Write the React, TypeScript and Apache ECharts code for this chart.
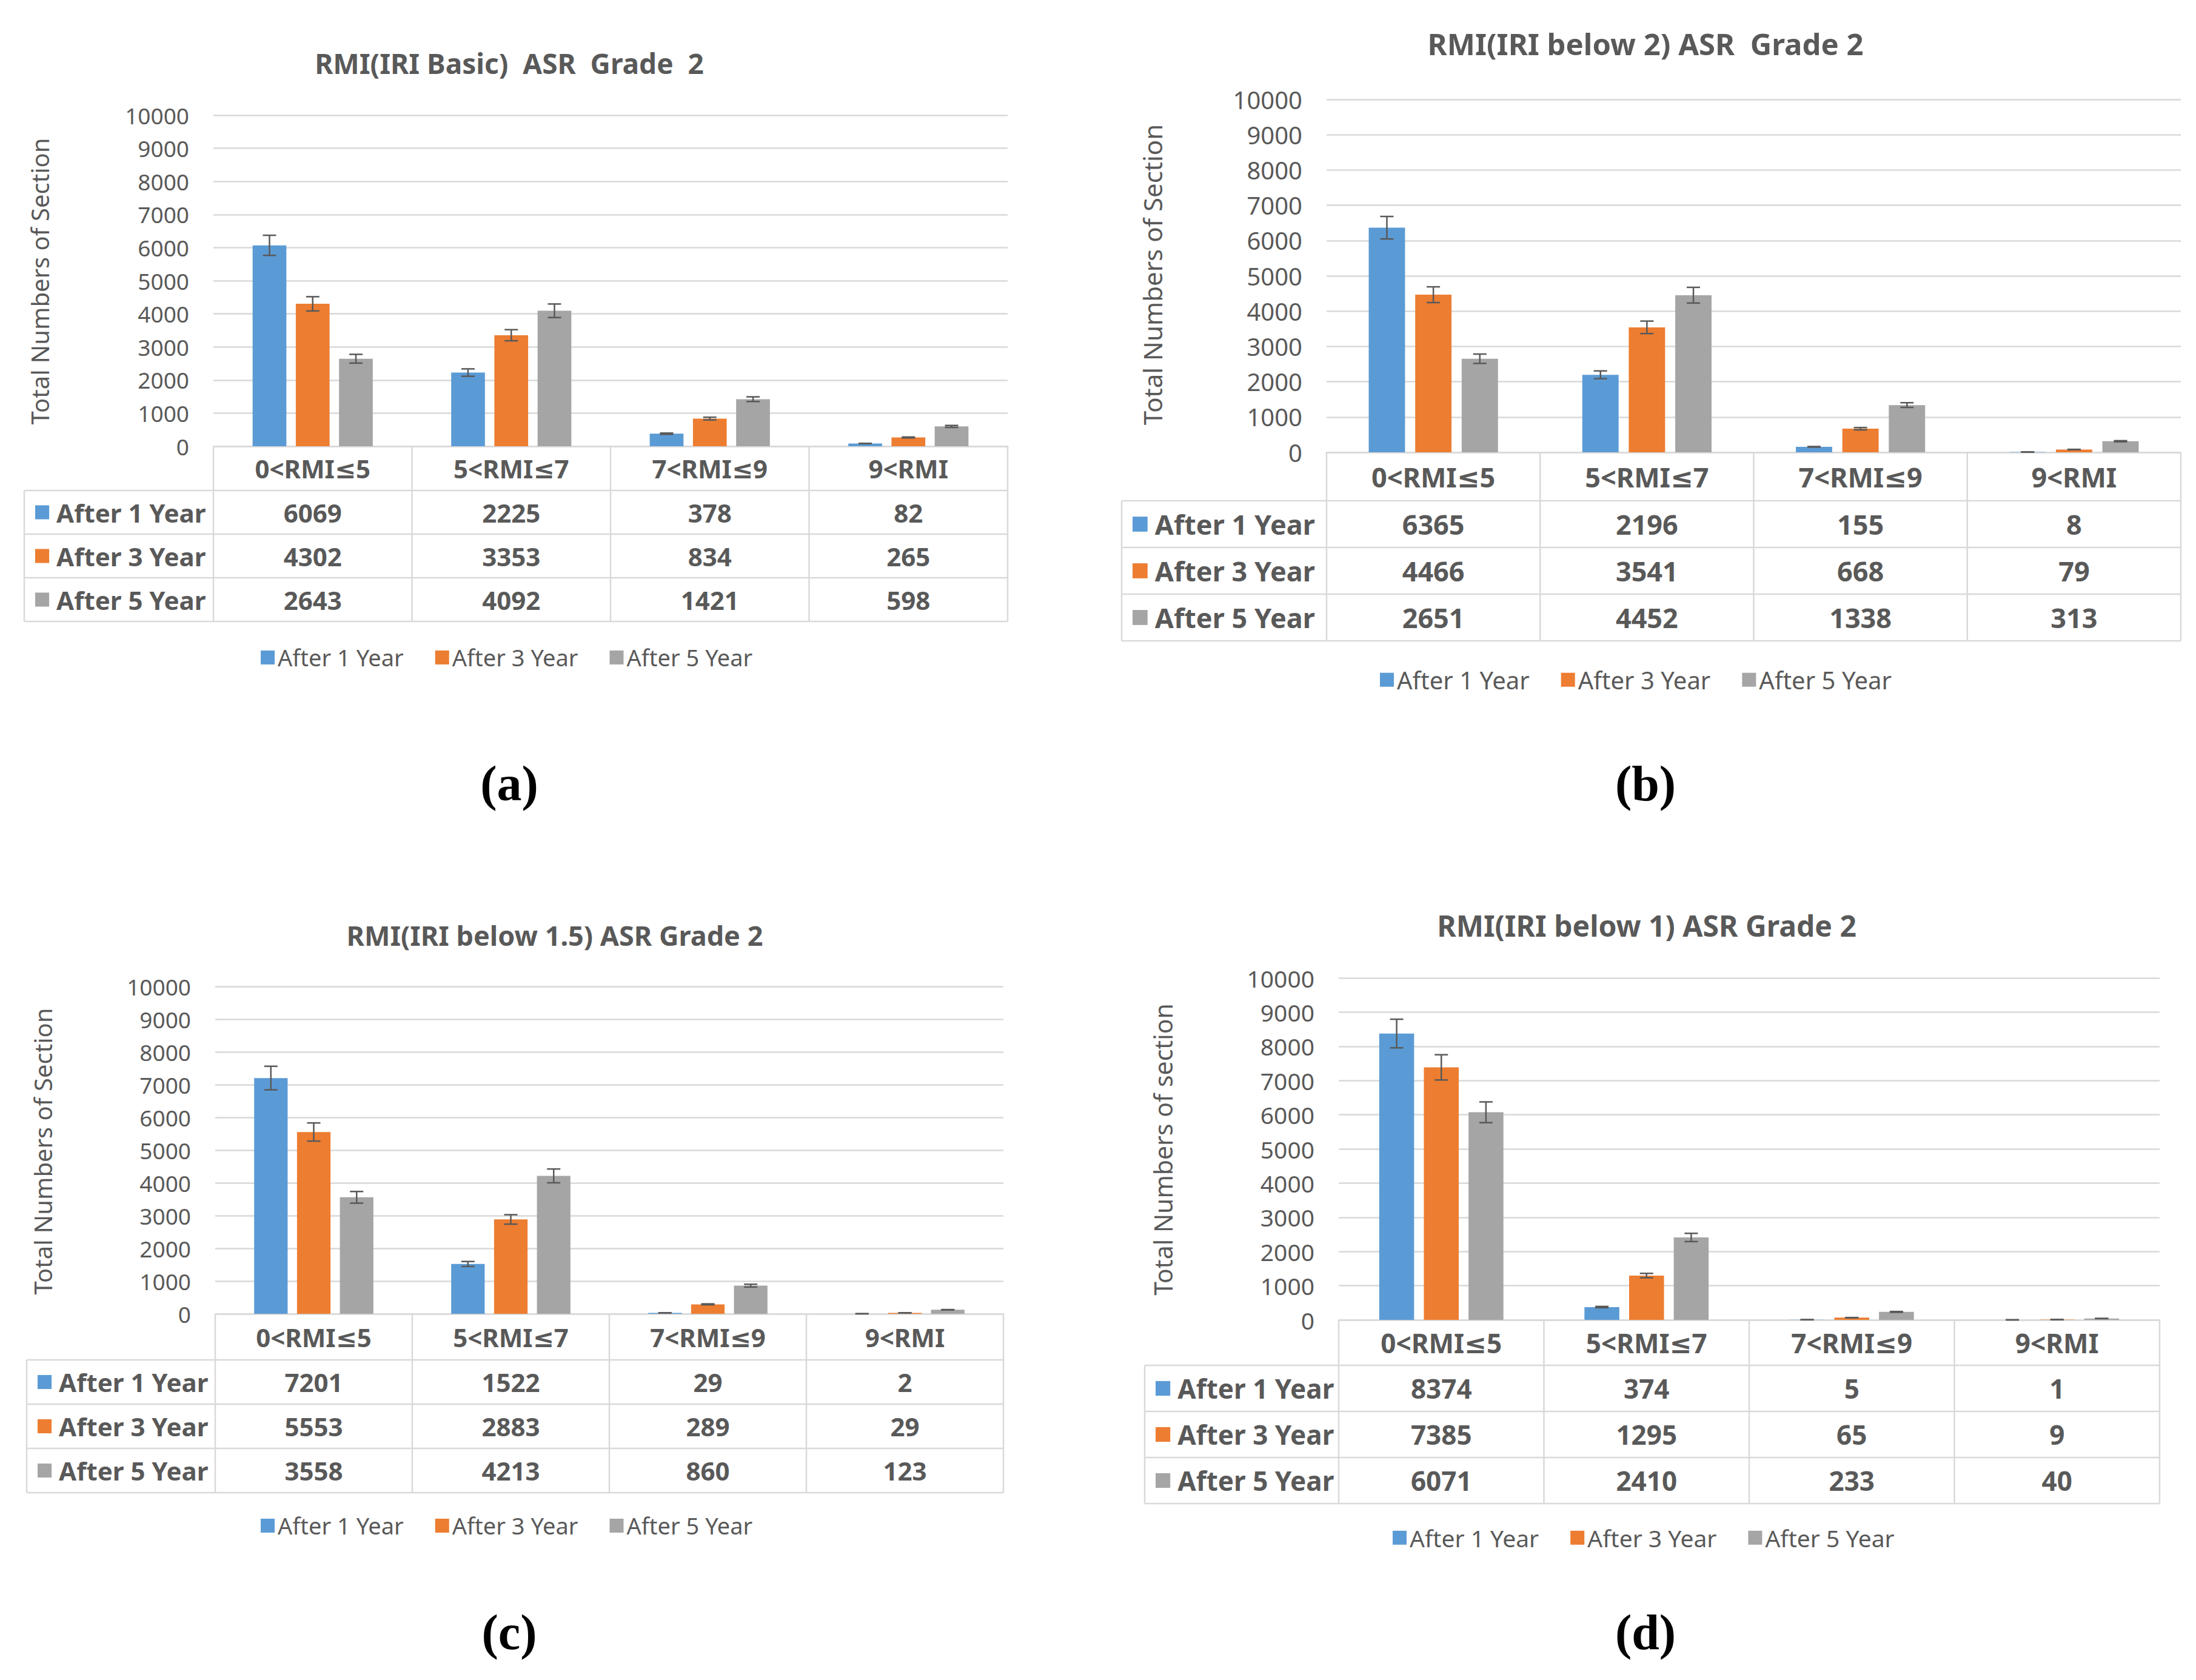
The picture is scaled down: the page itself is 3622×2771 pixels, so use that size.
import React, { useEffect, useRef } from 'react';
import * as echarts from 'echarts';

// ---------- DATA ----------
const categories = ['0<RMI≤5', '5<RMI≤7', '7<RMI≤9', '9<RMI'];
const seriesNames = ['After 1 Year', 'After 3 Year', 'After 5 Year'];
const chartTitles = [
  'RMI(IRI Basic)  ASR  Grade  2',
  'RMI(IRI below 2) ASR  Grade 2',
  'RMI(IRI below 1.5) ASR Grade 2',
  'RMI(IRI below 1) ASR Grade 2',
];
const yAxisTitles = [
  'Total Numbers of Section',
  'Total Numbers of Section',
  'Total Numbers of Section',
  'Total Numbers of section',
];
const panelLabels = ['(a)', '(b)', '(c)', '(d)'];
const yMin = 0;
const yMax = 10000;
const yInterval = 1000;
const errorPercent = 5; // Excel percentage error bars

const basicAfter1 = [6069, 2225, 378, 82];
const basicAfter3 = [4302, 3353, 834, 265];
const basicAfter5 = [2643, 4092, 1421, 598];

const below2After1 = [6365, 2196, 155, 8];
const below2After3 = [4466, 3541, 668, 79];
const below2After5 = [2651, 4452, 1338, 313];

const below15After1 = [7201, 1522, 29, 2];
const below15After3 = [5553, 2883, 289, 29];
const below15After5 = [3558, 4213, 860, 123];

const below1After1 = [8374, 374, 5, 1];
const below1After3 = [7385, 1295, 65, 9];
const below1After5 = [6071, 2410, 233, 40];

const panelValues = [
  [basicAfter1, basicAfter3, basicAfter5],
  [below2After1, below2After3, below2After5],
  [below15After1, below15After3, below15After5],
  [below1After1, below1After3, below1After5],
];

// ---------- STYLE / LAYOUT ----------
const COLORS = ['#5B9BD5', '#ED7D31', '#A5A5A5'];
const TEXT = '#595959';
const LINE = '#D9D9D9';
const FONT = "'Noto Sans', 'DejaVu Sans', sans-serif";
const SERIF = "'Liberation Serif', 'DejaVu Serif', serif";
const BAR_W = 0.17;
const BAR_GAP = 0.28;

const layouts = [
  { left: 352, top: 190, right: 1662, bottom: 736, headerH: 73, rowH: 72, tableLeft: 40,
    title: [840, 104, 46], yTitle: [65, 464, 40], legend: [425, 1084, 38], label: [840, 1292], tick: 37, cell: 42 },
  { left: 2188, top: 164, right: 3597, bottom: 746, headerH: 80, rowH: 77, tableLeft: 1850,
    title: [2714, 72, 49], yTitle: [1900, 453, 42], legend: [2271, 1121, 40], label: [2714, 1292], tick: 40, cell: 45 },
  { left: 355, top: 1627, right: 1655, bottom: 2167, headerH: 76, rowH: 73, tableLeft: 44,
    title: [915, 1542, 45], yTitle: [70, 1899, 40], legend: [425, 2516, 38], label: [840, 2692], tick: 37, cell: 42 },
  { left: 2208, top: 1613, right: 3562, bottom: 2177, headerH: 75, rowH: 76, tableLeft: 1888,
    title: [2716, 1526, 48], yTitle: [1918, 1896, 41], legend: [2292, 2536, 39], label: [2714, 2692], tick: 39, cell: 44 },
];

function buildOption() {
  const grid: any[] = [];
  const xAxis: any[] = [];
  const yAxis: any[] = [];
  const series: any[] = [];
  const legend: any[] = [];
  const graphic: any[] = [];

  layouts.forEach((L, i) => {
    grid.push({ left: L.left, top: L.top, width: L.right - L.left, height: L.bottom - L.top });
    xAxis.push({
      type: 'category', gridIndex: i, data: categories,
      axisLine: { show: true, lineStyle: { color: LINE, width: 2.5 } },
      axisTick: { show: false },
      splitLine: { show: false },
      axisLabel: {
        fontSize: L.cell, fontWeight: 'bold', color: TEXT, fontFamily: FONT,
        margin: L.headerH / 2, verticalAlign: 'middle',
      },
    });
    yAxis.push({
      type: 'value', gridIndex: i, min: yMin, max: yMax, interval: yInterval,
      axisLine: { show: false }, axisTick: { show: false },
      axisLabel: { fontSize: L.tick, color: TEXT, fontFamily: FONT, margin: 40, formatter: (v: number) => String(v) },
      splitLine: { lineStyle: { color: LINE, width: 2.5 } },
    });

    const vals = panelValues[i];
    vals.forEach((arr, s) => {
      series.push({
        type: 'bar', name: seriesNames[s], xAxisIndex: i, yAxisIndex: i,
        data: arr, barWidth: BAR_W * 100 + '%', barGap: BAR_GAP * 100 + '%',
        itemStyle: { color: COLORS[s] },
      });
    });
    const errData: number[][] = [];
    vals.forEach((arr, s) => arr.forEach((v, c) => errData.push([c, v, s])));
    series.push({
      type: 'custom', name: 'err' + i, xAxisIndex: i, yAxisIndex: i, z: 10, silent: true,
      encode: { x: 0, y: 1 },
      data: errData,
      renderItem: (params: any, api: any) => {
        const c = api.value(0);
        const v = api.value(1);
        const s = api.value(2);
        const p = api.coord([c, v]);
        const band = api.size([1, 0])[0];
        const bw = band * BAR_W;
        const gap = bw * BAR_GAP;
        const x = p[0] + (s - 1) * (bw + gap);
        const yHi = api.coord([c, v * (1 + errorPercent / 100)])[1];
        const yLo = api.coord([c, v * (1 - errorPercent / 100)])[1];
        const cap = 11;
        const st = { stroke: '#595959', lineWidth: 2.5 };
        return {
          type: 'group',
          children: [
            { type: 'line', shape: { x1: x, y1: yHi, x2: x, y2: yLo }, style: st },
            { type: 'line', shape: { x1: x - cap, y1: yHi, x2: x + cap, y2: yHi }, style: st },
            { type: 'line', shape: { x1: x - cap, y1: yLo, x2: x + cap, y2: yLo }, style: st },
          ],
        };
      },
    });

    legend.push({
      left: L.legend[0], top: L.legend[1] - L.legend[2] * 0.62,
      icon: 'rect', itemWidth: 23, itemHeight: 23, itemGap: 52, selectedMode: false,
      textStyle: { fontSize: L.legend[2], color: TEXT, fontFamily: FONT },
      data: seriesNames,
    });

    // Titles
    graphic.push({
      type: 'text', x: L.title[0], y: L.title[1], silent: true,
      style: { text: chartTitles[i], fill: TEXT, fontSize: L.title[2], fontWeight: 'bold', fontFamily: FONT, align: 'center', verticalAlign: 'middle' },
    });
    graphic.push({
      type: 'text', x: L.yTitle[0], y: L.yTitle[1], rotation: Math.PI / 2, silent: true,
      style: { text: yAxisTitles[i], fill: TEXT, fontSize: L.yTitle[2], fontFamily: FONT, align: 'center', verticalAlign: 'middle' },
    });
    graphic.push({
      type: 'text', x: L.label[0], y: L.label[1], silent: true,
      style: { text: panelLabels[i], fill: '#000', fontSize: 82, fontWeight: 'bold', fontFamily: SERIF, align: 'center', verticalAlign: 'middle' },
    });

    // Table
    const ln = (x1: number, y1: number, x2: number, y2: number) => graphic.push({
      type: 'line', silent: true, shape: { x1, y1, x2, y2 }, style: { stroke: LINE, lineWidth: 2.5 },
    });
    const y0 = L.bottom;
    const rTop = y0 + L.headerH;
    const tBottom = rTop + L.rowH * 3;
    const colW = (L.right - L.left) / categories.length;
    for (let r = 0; r <= 3; r++) ln(L.tableLeft, rTop + r * L.rowH, L.right, rTop + r * L.rowH);
    ln(L.tableLeft, rTop, L.tableLeft, tBottom);
    for (let c = 0; c <= categories.length; c++) ln(L.left + c * colW, y0, L.left + c * colW, tBottom);

    seriesNames.forEach((name, s) => {
      const cy = rTop + (s + 0.5) * L.rowH;
      const sq = L.cell * 0.55;
      graphic.push({
        type: 'rect', silent: true,
        shape: { x: L.tableLeft + 18, y: cy - sq / 2, width: sq, height: sq },
        style: { fill: COLORS[s] },
      });
      graphic.push({
        type: 'text', x: L.tableLeft + 18 + sq + 12, y: cy, silent: true,
        style: { text: name, fill: TEXT, fontSize: L.cell, fontWeight: 'bold', fontFamily: FONT, align: 'left', verticalAlign: 'middle' },
      });
      vals[s].forEach((v, c) => {
        graphic.push({
          type: 'text', x: L.left + (c + 0.5) * colW, y: cy, silent: true,
          style: { text: String(v), fill: TEXT, fontSize: L.cell, fontWeight: 'bold', fontFamily: FONT, align: 'center', verticalAlign: 'middle' },
        });
      });
    });
  });

  return {
    animation: false,
    backgroundColor: '#ffffff',
    grid, xAxis, yAxis, series, legend, graphic,
  };
}

export default function App() {
  const ref = useRef<HTMLDivElement>(null);
  useEffect(() => {
    if (!ref.current) return;
    const chart = echarts.init(ref.current, undefined, { renderer: 'svg' });
    chart.setOption(buildOption() as any);
    return () => chart.dispose();
  }, []);
  return (
    <div
      ref={ref}
      style={{ position: 'absolute', left: 0, top: 0, width: 3622, height: 2771, background: '#fff' }}
    />
  );
}
